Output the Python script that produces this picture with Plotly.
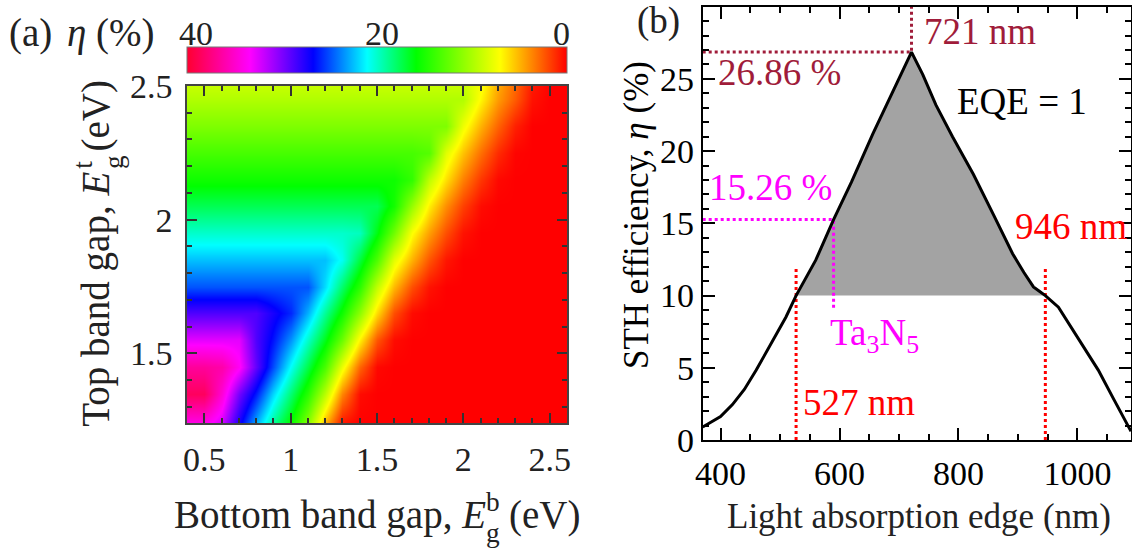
import plotly.graph_objects as go

W, H = 1132, 548
FONT = "Liberation Serif"

# ---------------- Panel (a): STH efficiency map ----------------
eb_bottom = [0.4, 0.5, 0.6, 0.7, 0.8, 0.9, 1.0, 1.1, 1.2, 1.3, 1.4, 1.5,
             1.6, 1.7, 1.8, 1.9, 2.0, 2.1, 2.2, 2.3, 2.4, 2.5, 2.6]
et_top = [1.24, 1.35, 1.45, 1.55, 1.65, 1.75, 1.85, 1.95, 2.05, 2.15,
          2.25, 2.35, 2.45, 2.55]
eta_map = [
    [35, 35, 33, 28, 23.5, 19.5, 16, 11.5, 5.2, 0.6, 0, 0, 0, 0, 0, 0, 0, 0, 0, 0, 0, 0, 0],
    [39.5, 39.5, 35.5, 30.5, 26.8, 22.5, 18.6, 14.8, 9.7, 3.8, 0.3, 0, 0, 0, 0, 0, 0, 0, 0, 0, 0, 0, 0],
    [37.5, 37.5, 37.0, 34.5, 30.0, 25.7, 21.4, 17.7, 13.7, 7.9, 2.8, 0.2, 0, 0, 0, 0, 0, 0, 0, 0, 0, 0, 0],
    [33.5, 33.5, 33.5, 33.5, 29.5, 27.0, 24.0, 20.4, 16.8, 12.5, 6.8, 2.4, 0.3, 0, 0, 0, 0, 0, 0, 0, 0, 0, 0],
    [29.5, 29.5, 29.5, 29.5, 29.5, 28.0, 26.5, 23.3, 19.4, 15.8, 11.2, 6.2, 2.2, 0.3, 0, 0, 0, 0, 0, 0, 0, 0, 0],
    [25.5, 25.5, 25.5, 25.5, 25.5, 25.5, 25.5, 25.5, 22.3, 18.5, 14.7, 9.4, 5.2, 2.2, 0.5, 0, 0, 0, 0, 0, 0, 0, 0],
    [23, 23, 23, 23, 23, 23, 23, 23, 23, 21.3, 17.5, 13.5, 8.2, 5.0, 2.4, 0.6, 0, 0, 0, 0, 0, 0, 0],
    [20.5, 20.5, 20.5, 20.5, 20.5, 20.5, 20.5, 20.5, 20.5, 20.5, 20.2, 16.6, 12.3, 7.3, 4.5, 2.2, 0.5, 0, 0, 0, 0, 0, 0],
    [18, 18, 18, 18, 18, 18, 18, 18, 18, 18, 18, 18, 15.6, 10.9, 6.8, 4.0, 1.8, 0.3, 0, 0, 0, 0, 0],
    [15.8, 15.8, 15.8, 15.8, 15.8, 15.8, 15.8, 15.8, 15.8, 15.8, 15.8, 15.8, 15.8, 14.5, 9.5, 6.3, 3.6, 1.5, 0.2, 0, 0, 0, 0],
    [13.8, 13.8, 13.8, 13.8, 13.8, 13.8, 13.8, 13.8, 13.8, 13.8, 13.8, 13.8, 13.8, 13.8, 13.3, 8.3, 5.5, 3.1, 1.2, 0.1, 0, 0, 0],
    [11.8, 11.8, 11.8, 11.8, 11.8, 11.8, 11.8, 11.8, 11.8, 11.8, 11.8, 11.8, 11.8, 11.8, 11.8, 11.8, 7.8, 5.0, 2.8, 0.9, 0, 0, 0],
    [10, 10, 10, 10, 10, 10, 10, 10, 10, 10, 10, 10, 10, 10, 10, 10, 10, 7.0, 4.4, 2.6, 0.5, 0, 0],
    [8.5, 8.5, 8.5, 8.5, 8.5, 8.5, 8.5, 8.5, 8.5, 8.5, 8.5, 8.5, 8.5, 8.5, 8.5, 8.5, 8.5, 8.0, 5.2, 3.2, 0.9, 0, 0],
]
cbar_ticks = [40, 20, 0]
cbar_max = 41

# ---------------- Panel (b): STH vs absorption edge ----------------
wl = [370, 385, 400, 420, 440, 460, 488, 510, 527, 560, 590, 620, 656, 690,
      721, 740, 757, 762, 790, 825, 860, 891, 910, 926, 936, 946, 968, 990,
      1035, 1060, 1090]
eta_curve = [0.9, 1.25, 1.62, 2.45, 3.5, 4.84, 6.91, 8.52, 10.0, 12.45, 15.26,
             17.85, 21.2, 24.1, 26.86, 25.3, 23.6, 23.2, 21.0, 18.4, 15.5, 12.9,
             11.6, 10.6, 10.3, 10.0, 9.2, 7.8, 4.84, 2.9, 0.6]
edge_lo, edge_hi = 527, 946
eta_threshold = 10
peak_wl, peak_eta = 721, 26.86
ta3n5_wl, ta3n5_eta = 590, 15.26
y_ticks_b = [0, 5, 10, 15, 20, 25]

DARKRED = "#a01c3a"
MAGENTA = "#ff00ff"
RED = "#ff0000"
TXT = "#222222"


def px(x):
    return x / W


def py(y):
    return 1 - y / H


cscale = [[0.0, "#ff0030"], [0.166, "#ff00ff"], [0.332, "#0000ff"],
          [0.474, "#00ffff"], [0.603, "#00ff00"], [0.824, "#ffff00"],
          [1.0, "#ff0000"]]

fig = go.Figure()

fig.add_trace(go.Heatmap(
    x=eb_bottom, y=et_top,
    z=[[-v for v in row] for row in eta_map],
    customdata=eta_map,
    hovertemplate="E_b=%{x}<br>E_t=%{y}<br>η=%{customdata}%<extra></extra>",
    zmin=-cbar_max, zmax=0, zsmooth="best", colorscale=cscale,
    colorbar=dict(orientation="h", x=px(187), xanchor="left",
                  len=380 / W, lenmode="fraction",
                  y=py(74), yanchor="bottom", thickness=26,
                  thicknessmode="pixels", xpad=0, ypad=0,
                  outlinewidth=1, outlinecolor="#777777",
                  ticks="", showticklabels=False),
    xaxis="x", yaxis="y"))

# gray filled area above threshold
sel = [(x, y) for x, y in zip(wl, eta_curve) if edge_lo <= x <= edge_hi]
fx = [p[0] for p in sel] + [edge_hi, edge_lo]
fy = [p[1] for p in sel] + [eta_threshold, eta_threshold]
fig.add_trace(go.Scatter(x=fx, y=fy, fill="toself", fillcolor="#a3a3a3",
                         line=dict(width=0), mode="lines", hoverinfo="skip",
                         xaxis="x2", yaxis="y2", showlegend=False))


def dotted(xs, ys, color):
    fig.add_trace(go.Scatter(x=xs, y=ys, mode="lines",
                             line=dict(color=color, width=3, dash="dot"),
                             hoverinfo="skip", xaxis="x2", yaxis="y2",
                             showlegend=False))


dotted([370, peak_wl, peak_wl], [peak_eta, peak_eta, 30], DARKRED)
dotted([370, ta3n5_wl, ta3n5_wl], [ta3n5_eta, ta3n5_eta, 9.0], MAGENTA)
dotted([edge_lo, edge_lo], [0, 11.9], RED)
dotted([edge_hi, edge_hi], [0, 11.9], RED)

fig.add_trace(go.Scatter(x=wl, y=eta_curve, mode="lines",
                         line=dict(color="black", width=3),
                         xaxis="x2", yaxis="y2", showlegend=False))

tickfont = dict(family=FONT, size=34, color=TXT)
tickfont_b = dict(family=FONT, size=34, color="black")

fig.update_layout(
    width=W, height=H,
    margin=dict(l=0, r=0, t=0, b=0, autoexpand=False),
    paper_bgcolor="white", plot_bgcolor="white",
    showlegend=False,
    font=dict(family=FONT, size=34, color="black"),
    xaxis=dict(domain=[px(187), px(567)], range=[0.4, 2.6], dtick=0.5, tick0=0,
               ticks="inside", ticklen=10, tickwidth=1.5, tickcolor="#333333",
               minor=dict(dtick=0.1, tick0=0, ticks="inside", ticklen=5,
                          tickwidth=1.5, tickcolor="#333333"),
               showline=True, linecolor="#444444", linewidth=1.5, mirror="ticks",
               showgrid=False, zeroline=False, tickfont=tickfont,
               ticklabelstandoff=5, anchor="y"),
    yaxis=dict(domain=[py(423), py(86)], range=[1.24, 2.5], dtick=0.5, tick0=0,
               ticks="inside", ticklen=10, tickwidth=1.5, tickcolor="#333333",
               minor=dict(dtick=0.1, tick0=0, ticks="inside", ticklen=5,
                          tickwidth=1.5, tickcolor="#333333"),
               showline=True, linecolor="#444444", linewidth=1.5, mirror="ticks",
               showgrid=False, zeroline=False, tickfont=tickfont,
               ticklabelstandoff=6, anchor="x"),
    xaxis2=dict(domain=[px(702.7), px(1131)], range=[370, 1090], dtick=200, tick0=0,
                ticks="inside", ticklen=12, tickwidth=1.5, tickcolor="black",
                minor=dict(dtick=50, tick0=0, ticks="inside", ticklen=6,
                           tickwidth=1.5, tickcolor="black"),
                showline=True, linecolor="black", linewidth=2, mirror="ticks",
                showgrid=False, zeroline=False, tickfont=tickfont_b,
                ticklabelstandoff=2, anchor="y2"),
    yaxis2=dict(domain=[py(440), py(6.7)], range=[0, 30], tickvals=y_ticks_b,
                ticks="inside", ticklen=12, tickwidth=1.5, tickcolor="black",
                minor=dict(dtick=1, tick0=0, ticks="inside", ticklen=6,
                           tickwidth=1.5, tickcolor="black"),
                showline=True, linecolor="black", linewidth=2, mirror="ticks",
                showgrid=False, zeroline=False, tickfont=tickfont_b,
                ticklabelstandoff=0, anchor="x2"),
)

ann = []


def paper_text(text, x, y, size, color="black", angle=0, xanchor="center",
               yanchor="middle", pad=1):
    ann.append(dict(text=text, x=px(x), y=py(y), xref="paper", yref="paper",
                    showarrow=False, textangle=angle, xanchor=xanchor,
                    yanchor=yanchor, borderpad=pad,
                    font=dict(family=FONT, size=size, color=color)))


def data_text(text, x, y, size, color, xanchor="left", yanchor="middle"):
    ann.append(dict(text=text, x=x, y=y, xref="x2", yref="y2",
                    showarrow=False, xanchor=xanchor, yanchor=yanchor,
                    font=dict(family=FONT, size=size, color=color)))


# panel labels and colorbar labels
paper_text("(a)", 30, 33, 39, color=TXT)
paper_text("<i>η</i> (%)", 111, 33, 39, color=TXT)
for v in cbar_ticks:
    xpix = 567 - v * 380 / cbar_max
    paper_text(str(v), min(xpix, 561), 33, 34, color=TXT)
paper_text("(b)", 658, 21, 37, color=TXT)

# axis titles of (a): E with stacked superscript / subscript, built from pieces
TS = 39
SS = TS * 0.7
# horizontal title (baseline ~528 px)
paper_text("Bottom band gap, <i>E</i>", 172.6, 514.8, TS, color=TXT,
           xanchor="left", pad=0)
paper_text("b", 485.0, 502.4, SS, color=TXT, xanchor="left", pad=0)
paper_text("g", 485.0, 533.0, SS, color=TXT, xanchor="left", pad=0)
paper_text("(eV)", 508.0, 514.8, TS, color=TXT, xanchor="left", pad=0)
# vertical title (baseline ~109 px, text runs upward)
paper_text("Top band gap, <i>E</i>", 96.0, 428.3, TS, color=TXT, angle=-90,
           yanchor="bottom", pad=0)
paper_text("t", 83.5, 170.3, SS, color=TXT, angle=-90, yanchor="bottom", pad=0)
paper_text("g", 113.8, 170.3, SS, color=TXT, angle=-90, yanchor="bottom", pad=0)
paper_text("(eV)", 96.0, 153.0, TS, color=TXT, angle=-90, yanchor="bottom",
           pad=0)

# axis titles of (b)
paper_text("Light absorption edge (nm)", 919, 516, 35, color=TXT)
paper_text("STH efficiency, <i>η</i> (%)", 636, 215, 35, color="black", angle=-90)

# annotations inside panel (b)
data_text(f"{peak_wl} nm", 738, 28.27, 37, DARKRED)
data_text(f"{peak_eta:.2f} %", 393, 25.44, 37, DARKRED)
data_text("EQE = 1", 793.6, 23.42, 37, "black")
data_text(f"{ta3n5_eta:.2f} %", 378, 17.5, 37, MAGENTA)
data_text(f"{edge_hi} nm", 891, 14.77, 37, RED)
data_text("Ta<sub>3</sub>N<sub>5</sub>", 580, 9.0, 37, MAGENTA, yanchor="top")
data_text(f"{edge_lo} nm", 535.7, 2.6, 37, RED)

fig.update_layout(annotations=ann)

fig.write_html("out.html")
